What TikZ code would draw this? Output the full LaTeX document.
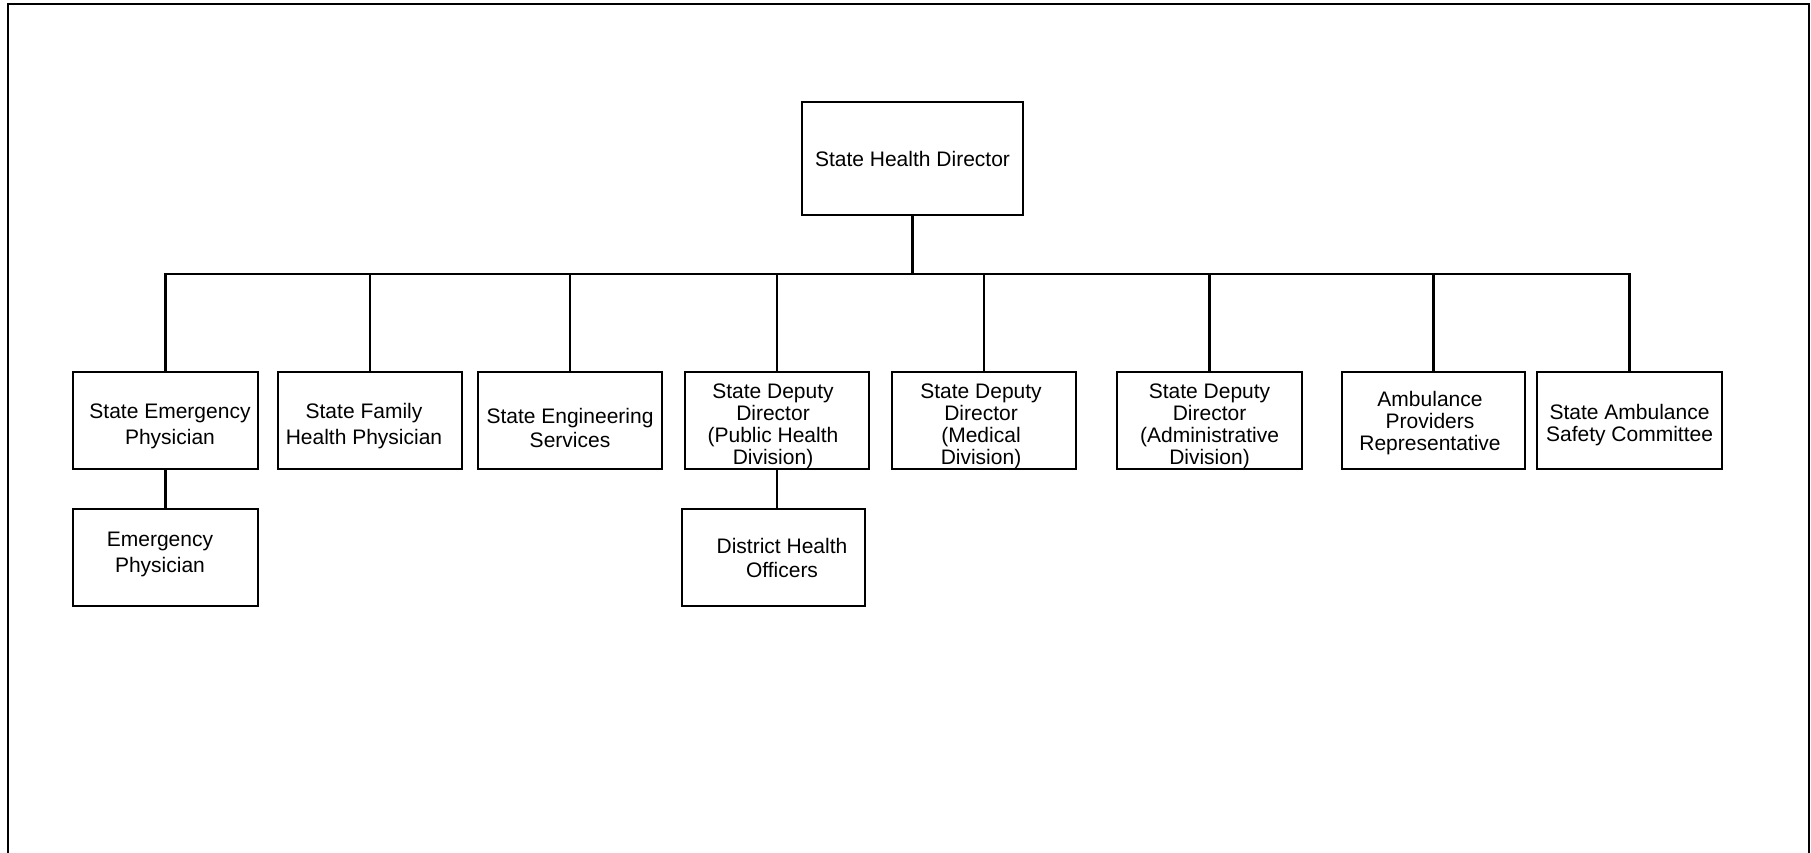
\documentclass[tikz,border=0pt]{standalone}
\usepackage{fontspec}
\setmainfont{Liberation Sans}
\begin{document}
\begin{tikzpicture}[x=1pt,y=-1pt,
  box/.style={draw, line width=2.1pt, minimum width=184pt, minimum height=97pt, inner sep=0pt},
  txt/.style={font=\fontsize{21}{#1}\selectfont, align=center, inner sep=0pt},
  conn/.style={line width=2.8pt}]
\useasboundingbox (0,0) rectangle (1811,853);
\draw[line width=2.6pt] (8,860) -- (8,4) -- (1809,4) -- (1809,860);

\node[box, minimum width=221pt, minimum height=113pt] (top) at (912.5,158.5)
  {\fontsize{21}{25}\selectfont State Health Director};

\node[box, minimum width=185pt, label={[txt=26, xshift=4.5pt, yshift=-5.5pt]center:{State Emergency\\Physician}}] (b1) at (165.5,420.5) {};
\node[box, label={[txt=26, xshift=-6pt, yshift=-5.5pt]center:{State Family\\Health Physician}}] (b2) at (370,420.5) {};
\node[box, label={[txt=24, yshift=-7pt]center:{State Engineering\\Services}}] (b3) at (570,420.5) {};
\node[box, label={[txt=22, xshift=-4pt, yshift=-5.5pt]center:{State Deputy\\Director\\(Public Health\\Division)}}] (b4) at (777,420.5) {};
\node[box, label={[txt=22, xshift=-3pt, yshift=-5.5pt]center:{State Deputy\\Director\\(Medical\\Division)}}] (b5) at (984,420.5) {};
\node[box, minimum width=185pt, label={[txt=22, yshift=-5.5pt]center:{State Deputy\\Director\\(Administrative\\Division)}}] (b6) at (1209.5,420.5) {};
\node[box, minimum width=183pt, label={[txt=22, xshift=-3.5pt, yshift=-2.5pt]center:{Ambulance\\Providers\\Representative}}] (b7) at (1433.5,420.5) {};
\node[box, minimum width=185pt, label={[txt=22, yshift=-4.5pt]center:{State Ambulance\\Safety Committee}}] (b8) at (1629.5,420.5) {};

\node[box, minimum width=185pt, label={[txt=26, xshift=-5.5pt, yshift=3.5pt]center:{Emergency\\Physician}}] (c1) at (165.5,557.5) {};
\node[box, minimum width=183pt, label={[txt=24, xshift=8.5pt]center:{District Health\\Officers}}] (c2) at (773.5,557.5) {};

\coordinate (bus) at (0,274);
\draw[conn] (top.south) -- (top.south |- bus);
\draw[conn, line cap=rect] (b1.north |- bus) -- (b8.north |- bus);
\foreach \n in {b1,b2,b3,b4,b5,b6,b7,b8}
  \draw[conn] (\n.north) -- (\n.north |- bus);
\draw[conn] (b1.south) -- (c1.north);
\draw[conn] (b4.south) -- (b4.south |- c2.north);
\end{tikzpicture}
\end{document}
